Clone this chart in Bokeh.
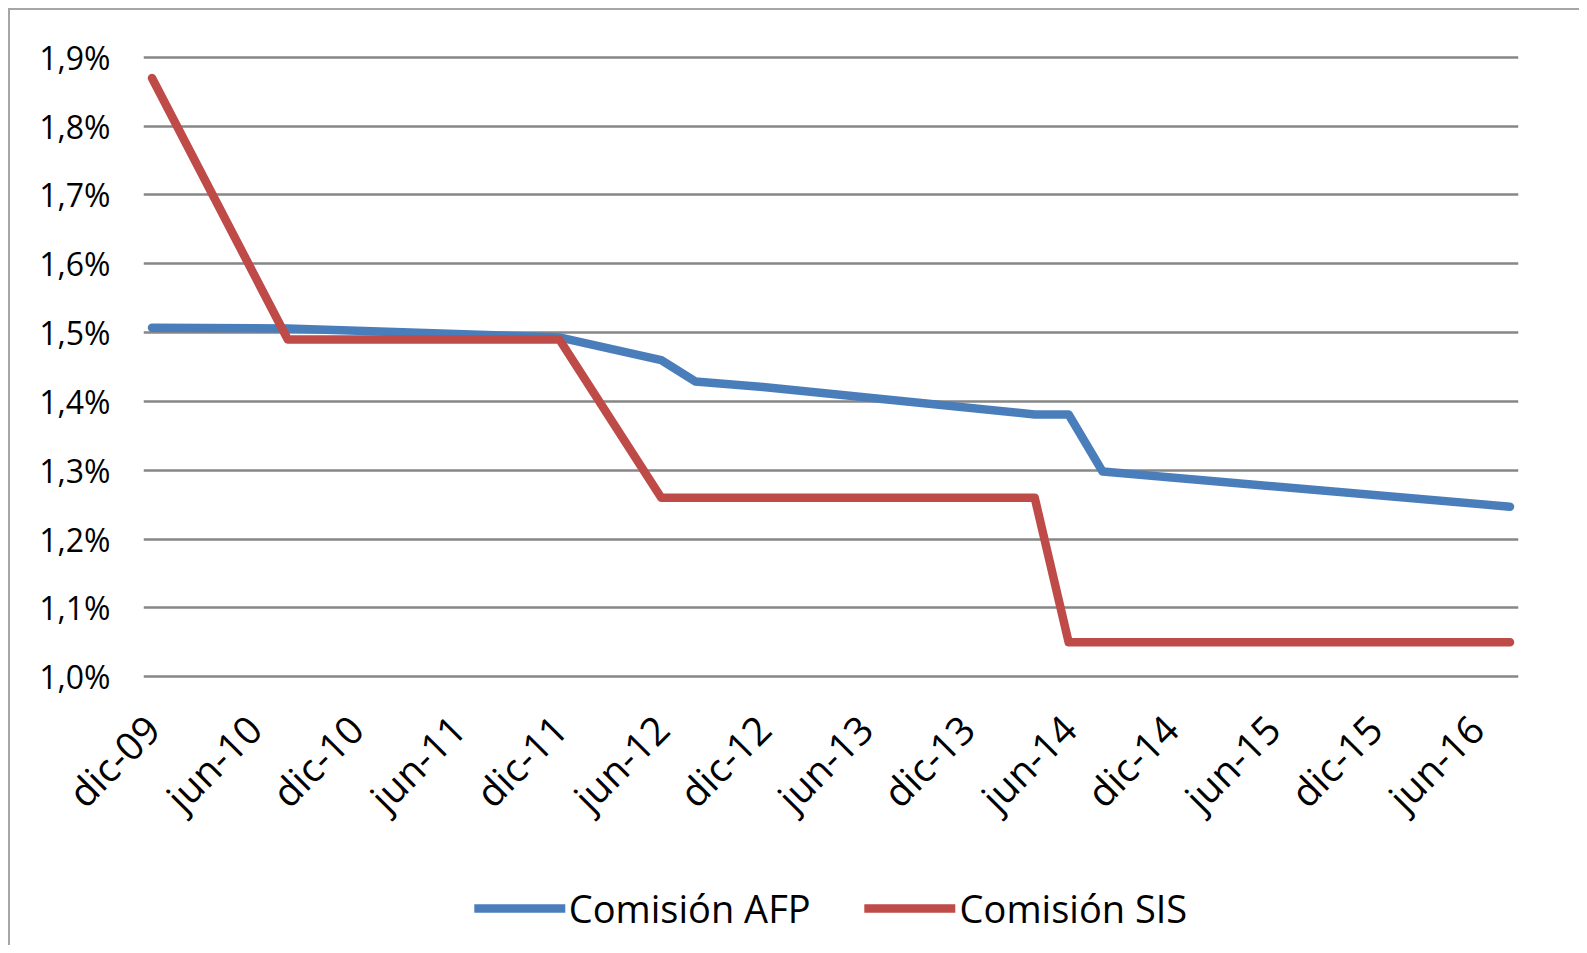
from bokeh.plotting import figure
from bokeh.models import (Legend, LegendItem, FixedTicker, Range1d,
                          CustomJSTickFormatter)
from bokeh.embed import file_html
from bokeh.resources import INLINE

# ---- data ----
MONTHS = {"ene": 1, "feb": 2, "mar": 3, "abr": 4, "may": 5, "jun": 6,
          "jul": 7, "ago": 8, "sep": 9, "oct": 10, "nov": 11, "dic": 12}

tick_labels = ["dic-09", "jun-10", "dic-10", "jun-11", "dic-11", "jun-12", "dic-12",
               "jun-13", "dic-13", "jun-14", "dic-14", "jun-15", "dic-15", "jun-16"]

afp_dates = ["dic-09", "ago-10", "dic-11", "jun-12", "ago-12", "dic-12",
             "abr-14", "jun-14", "ago-14", "ago-16"]
afp_values = [1.507, 1.506, 1.493, 1.460, 1.429, 1.421, 1.381, 1.381, 1.298, 1.247]

sis_dates = ["dic-09", "ago-10", "dic-11", "jun-12", "abr-14", "jun-14", "ago-16"]
sis_values = [1.87, 1.49, 1.49, 1.26, 1.26, 1.05, 1.05]

y_ticks = [1.0, 1.1, 1.2, 1.3, 1.4, 1.5, 1.6, 1.7, 1.8, 1.9]


def month_index(lbl):
    m, y = lbl.split("-")
    return (2000 + int(y) - 2009) * 12 + MONTHS[m] - 12


afp_x = [month_index(d) for d in afp_dates]
sis_x = [month_index(d) for d in sis_dates]
tick_x = [month_index(d) for d in tick_labels]

FONT = "Open Sans"
BLUE = "#4A7EBB"
RED = "#BE4B48"

p = figure(frame_width=1375, frame_height=633, output_backend="svg",
           toolbar_location=None,
           x_range=Range1d(-0.5, 80.5), y_range=Range1d(0.99, 1.91),
           min_border_left=133, min_border_right=61, min_border_top=40,
           min_border_bottom=262,
           styles={"margin-left": "8px", "margin-top": "8px",
                   "border-top": "2px solid #a6a6a6",
                   "border-left": "2px solid #a6a6a6"})
p.outline_line_color = None
p.background_fill_color = "white"
p.border_fill_color = "white"

r_afp = p.line(afp_x, afp_values, line_width=8.5, line_color=BLUE,
               line_cap="round", line_join="round")
r_sis = p.line(sis_x, sis_values, line_width=8.5, line_color=RED,
               line_cap="round", line_join="round")

# axes
p.yaxis.ticker = FixedTicker(ticks=y_ticks)
p.yaxis.formatter = CustomJSTickFormatter(
    code="return tick.toFixed(1).replace('.', ',') + '%';")
p.yaxis.axis_line_color = None
p.yaxis.major_tick_line_color = None
p.yaxis.minor_tick_line_color = None
p.yaxis.major_tick_out = 0
p.yaxis.major_tick_in = 0
p.yaxis.major_label_standoff = 33
p.yaxis.major_label_text_font = FONT
p.yaxis.major_label_text_font_size = "32px"
p.yaxis.major_label_text_color = "black"

p.xaxis.ticker = FixedTicker(ticks=tick_x)
p.xaxis.major_label_overrides = {x: l for x, l in zip(tick_x, tick_labels)}
p.xaxis.major_label_orientation = 0.785398
p.xaxis.axis_line_color = None
p.xaxis.major_tick_line_color = None
p.xaxis.minor_tick_line_color = None
p.xaxis.major_tick_out = 0
p.xaxis.major_tick_in = 0
p.xaxis.major_label_standoff = 38
p.xaxis.major_label_text_font = FONT
p.xaxis.major_label_text_font_size = "39px"
p.xaxis.major_label_text_color = "black"

p.xgrid.grid_line_color = None
p.ygrid.grid_line_color = "#878787"
p.ygrid.grid_line_width = 2.5

legend = Legend(items=[LegendItem(label="Comisión AFP", renderers=[r_afp]),
                       LegendItem(label="Comisión SIS", renderers=[r_sis])],
                orientation="horizontal", location="center",
                label_text_font=FONT, label_text_font_size="38px",
                label_text_color="black",
                glyph_width=91, glyph_height=40, label_standoff=4, spacing=54,
                padding=0, margin=-333, border_line_color=None,
                background_fill_alpha=0)
p.add_layout(legend, "below")

open("out.html", "w").write(file_html(p, INLINE))
